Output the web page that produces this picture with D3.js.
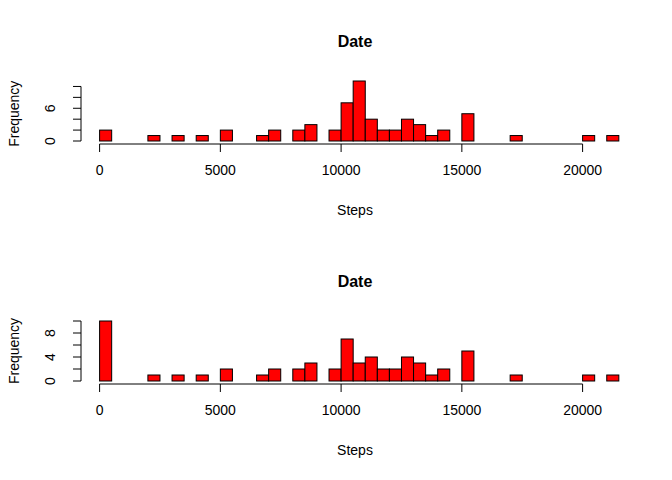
<!DOCTYPE html>
<html><head><meta charset="utf-8">
<script src="https://cdn.jsdelivr.net/npm/d3@7"></script>
<style>body{margin:0;background:#fff}svg{font-family:"Liberation Sans",Arial,sans-serif}</style>
</head><body><div id="container"></div>
<script>
// bin start values (width 500) and counts
const binStarts = [0, 2000, 3000, 4000, 5000, 6500, 7000, 8000, 8500, 9500, 10000, 10500, 11000, 11500, 12000, 12500, 13000, 13500, 14000, 15000, 17000, 20000, 21000];
const countsTop = [2, 1, 1, 1, 2, 1, 2, 2, 3, 2, 7, 11, 4, 2, 2, 4, 3, 1, 2, 5, 1, 1, 1];
const countsBottom = [10, 1, 1, 1, 2, 1, 2, 2, 3, 2, 7, 3, 4, 2, 2, 4, 3, 1, 2, 5, 1, 1, 1];
const binWidth = 500;
const xTicks = [0, 5000, 10000, 15000, 20000];
const yTicks = [0, 2, 4, 6, 8, 10];
const yLabelsTop = [0, 6];
const yLabelsBottom = [0, 4, 8];

const svg = d3.select('#container').append('svg').attr('width', 672).attr('height', 480);
const x = d3.scaleLinear().domain([0, 20000]).range([99.6, 582.6]);

function panel(counts, top, yLabels) {
    const base = top + 106;
    const yMax = d3.max(counts);
    const y = d3.scaleLinear().domain([0, yMax]).range([base, base - 60]);
    const g = svg.append('g');
    g.append('text').attr('x', 355).attr('y', top + 12).attr('text-anchor', 'middle')
        .attr('font-weight', 'bold').attr('font-size', 16).text('Date');
    g.selectAll('rect').data(binStarts).enter().append('rect')
        .attr('x', d => x(d)).attr('width', x(binWidth) - x(0))
        .attr('y', (d, i) => y(counts[i])).attr('height', (d, i) => base - y(counts[i]))
        .attr('fill', '#ff0000').attr('stroke', '#000').attr('stroke-width', 1);
    // x axis
    const xa = base + 3;
    g.append('line').attr('x1', x(0)).attr('x2', x(20000)).attr('y1', xa).attr('y2', xa).attr('stroke', '#000');
    xTicks.forEach(t => {
        g.append('line').attr('x1', x(t)).attr('x2', x(t)).attr('y1', xa).attr('y2', xa + 8).attr('stroke', '#000');
        g.append('text').attr('x', x(t)).attr('y', xa + 31).attr('text-anchor', 'middle').attr('font-size', 14).text(t);
    });
    g.append('text').attr('x', 355).attr('y', xa + 71).attr('text-anchor', 'middle').attr('font-size', 14).text('Steps');
    // y axis
    const ya = 81;
    g.append('line').attr('x1', ya).attr('x2', ya).attr('y1', y(0)).attr('y2', y(10)).attr('stroke', '#000');
    yTicks.forEach(t => {
        g.append('line').attr('x1', ya - 8).attr('x2', ya).attr('y1', y(t)).attr('y2', y(t)).attr('stroke', '#000');
    });
    yLabels.forEach(t => {
        g.append('text').attr('transform', `translate(55,${y(t)}) rotate(-90)`)
            .attr('text-anchor', 'middle').attr('font-size', 14).text(t);
    });
    g.append('text').attr('transform', `translate(19,${y(5)}) rotate(-90)`)
        .attr('text-anchor', 'middle').attr('font-size', 14).text('Frequency');
}

panel(countsTop, 35, yLabelsTop);
panel(countsBottom, 275, yLabelsBottom);
</script></body></html>
